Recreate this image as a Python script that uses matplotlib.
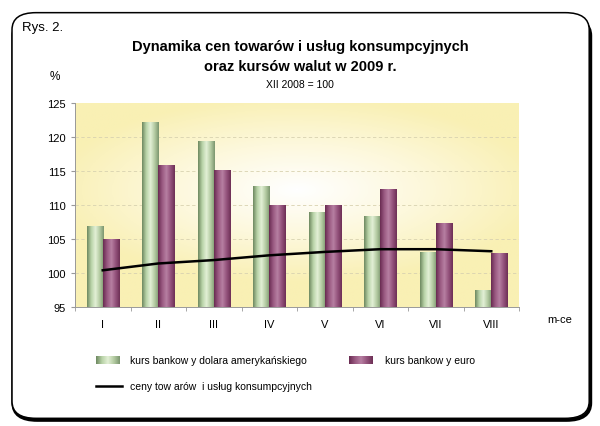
import matplotlib
matplotlib.use("Agg")
import matplotlib.pyplot as plt
import numpy as np
from matplotlib.patches import FancyBboxPatch
from matplotlib.colors import LinearSegmentedColormap

# dane
miesiace = ['I', 'II', 'III', 'IV', 'V', 'VI', 'VII', 'VIII']
kurs_usd = [106.8, 122.2, 119.3, 112.7, 108.9, 108.3, 103.0, 97.5]
kurs_eur = [105.0, 115.8, 115.1, 110.0, 109.9, 112.3, 107.3, 102.9]
ceny = [100.4, 101.4, 101.9, 102.6, 103.1, 103.5, 103.5, 103.2]

plt.rcParams['font.family'] = ['Liberation Sans', 'DejaVu Sans']

fig = plt.figure(figsize=(6, 4.27), dpi=100)
fig.patch.set_facecolor('white')

# ramka z zaokraglonymi rogami (cien po prawej i na dole)
cien = FancyBboxPatch((0.022, 0.014), 0.962, 0.94, boxstyle="round,pad=0,rounding_size=0.04",
                      transform=fig.transFigure, fc='none', ec='black', lw=2.6, zorder=-2)
ramka = FancyBboxPatch((0.02, 0.018), 0.962, 0.95, boxstyle="round,pad=0,rounding_size=0.04",
                       transform=fig.transFigure, fc='white', ec='black', lw=1.1, zorder=-1)
fig.patches.append(cien)
fig.patches.append(ramka)

ax = fig.add_axes([0.125, 0.2787, 0.74, 0.4777])
x = np.arange(len(miesiace))
w = 0.29

# tlo - gradient zolty z jasnym srodkiem
yy, xx = np.mgrid[-1:1:200j, -1:1:300j]
r = np.sqrt((xx * 0.9) ** 2 + ((yy + 0.15) * 1.1) ** 2)
tlo = LinearSegmentedColormap.from_list('tlo', ['#ffffff', '#fdf8dc', '#f9f0b4'])
ax.imshow(np.clip(r, 0, 1), cmap=tlo, extent=(-0.5, 7.5, 95, 125), aspect='auto', zorder=0)

for yv in [100, 105, 110, 115, 120]:
    ax.axhline(yv, color='#d8d2b0', lw=0.6, ls=(0, (4, 3)), zorder=1)

zielony = LinearSegmentedColormap.from_list('z', ['#6f8a62', '#b9d3a8', '#e3f0d6', '#b5cca3', '#7d9770'])
fiolet = LinearSegmentedColormap.from_list('f', ['#6a2c52', '#9a5a82', '#b77fa2', '#94537c', '#6e3056'])
grad = np.linspace(0, 1, 50).reshape(1, -1)

b1 = ax.bar(x - w / 2, np.array(kurs_usd) - 95, w, bottom=95, color='#b9d3a8', zorder=2)
b2 = ax.bar(x + w / 2, np.array(kurs_eur) - 95, w, bottom=95, color='#9a5a82', zorder=2)
for bars, cm in [(b1, zielony), (b2, fiolet)]:
    for p in bars:
        x0 = p.get_x()
        ax.imshow(grad, cmap=cm, extent=(x0, x0 + p.get_width(), 95, 95 + p.get_height()),
                  aspect='auto', zorder=3)

ax.plot(x, ceny, color='black', lw=1.8, zorder=4)

ax.set_xlim(-0.5, 7.5)
ax.set_ylim(95, 125)
ax.set_yticks([95, 100, 105, 110, 115, 120, 125])
ax.set_xticks(x)
ax.set_xticklabels(miesiace)
ax.set_xticks(np.arange(-0.5, 8, 1), minor=True)
ax.tick_params(axis='x', which='major', length=0, labelsize=8, pad=9)
ax.tick_params(axis='x', which='minor', length=3, color='#999999')
ax.tick_params(axis='y', length=3, labelsize=8, color='#999999')
for s in ['top', 'right']:
    ax.spines[s].set_visible(False)
ax.spines['left'].set_color('#999999')
ax.spines['bottom'].set_color('#999999')
ax.spines['left'].set_linewidth(0.7)
ax.spines['bottom'].set_linewidth(0.7)

fig.text(0.037, 0.935, 'Rys. 2.', fontsize=9.5, va='center')
fig.text(0.5, 0.89, 'Dynamika cen towarów i usług konsumpcyjnych', fontsize=10.5,
         fontweight='bold', ha='center', va='center')
fig.text(0.5, 0.843, 'oraz kursów walut w 2009 r.', fontsize=10.5,
         fontweight='bold', ha='center', va='center')
fig.text(0.5, 0.8, 'XII 2008 = 100', fontsize=7.5, ha='center', va='center')
fig.text(0.092, 0.82, '%', fontsize=8.5, ha='center', va='center')
fig.text(0.933, 0.25, 'm-ce', fontsize=8, ha='center', va='center')

# legenda
lz = fig.add_axes([0.16, 0.145, 0.04, 0.018])
lz.imshow(grad, cmap=zielony, aspect='auto')
lz.axis('off')
lf = fig.add_axes([0.582, 0.145, 0.04, 0.018])
lf.imshow(grad, cmap=fiolet, aspect='auto')
lf.axis('off')
fig.add_artist(plt.Line2D([0.16, 0.203], [0.094, 0.094], color='black', lw=1.8))
fig.text(0.217, 0.154, 'kurs bankow y dolara amerykańskiego', fontsize=7.5, va='center')
fig.text(0.642, 0.154, 'kurs bankow y euro', fontsize=7.5, va='center')
fig.text(0.217, 0.094, 'ceny tow arów  i usług konsumpcyjnych', fontsize=7.5, va='center')

fig.savefig('out.png', dpi=100)
